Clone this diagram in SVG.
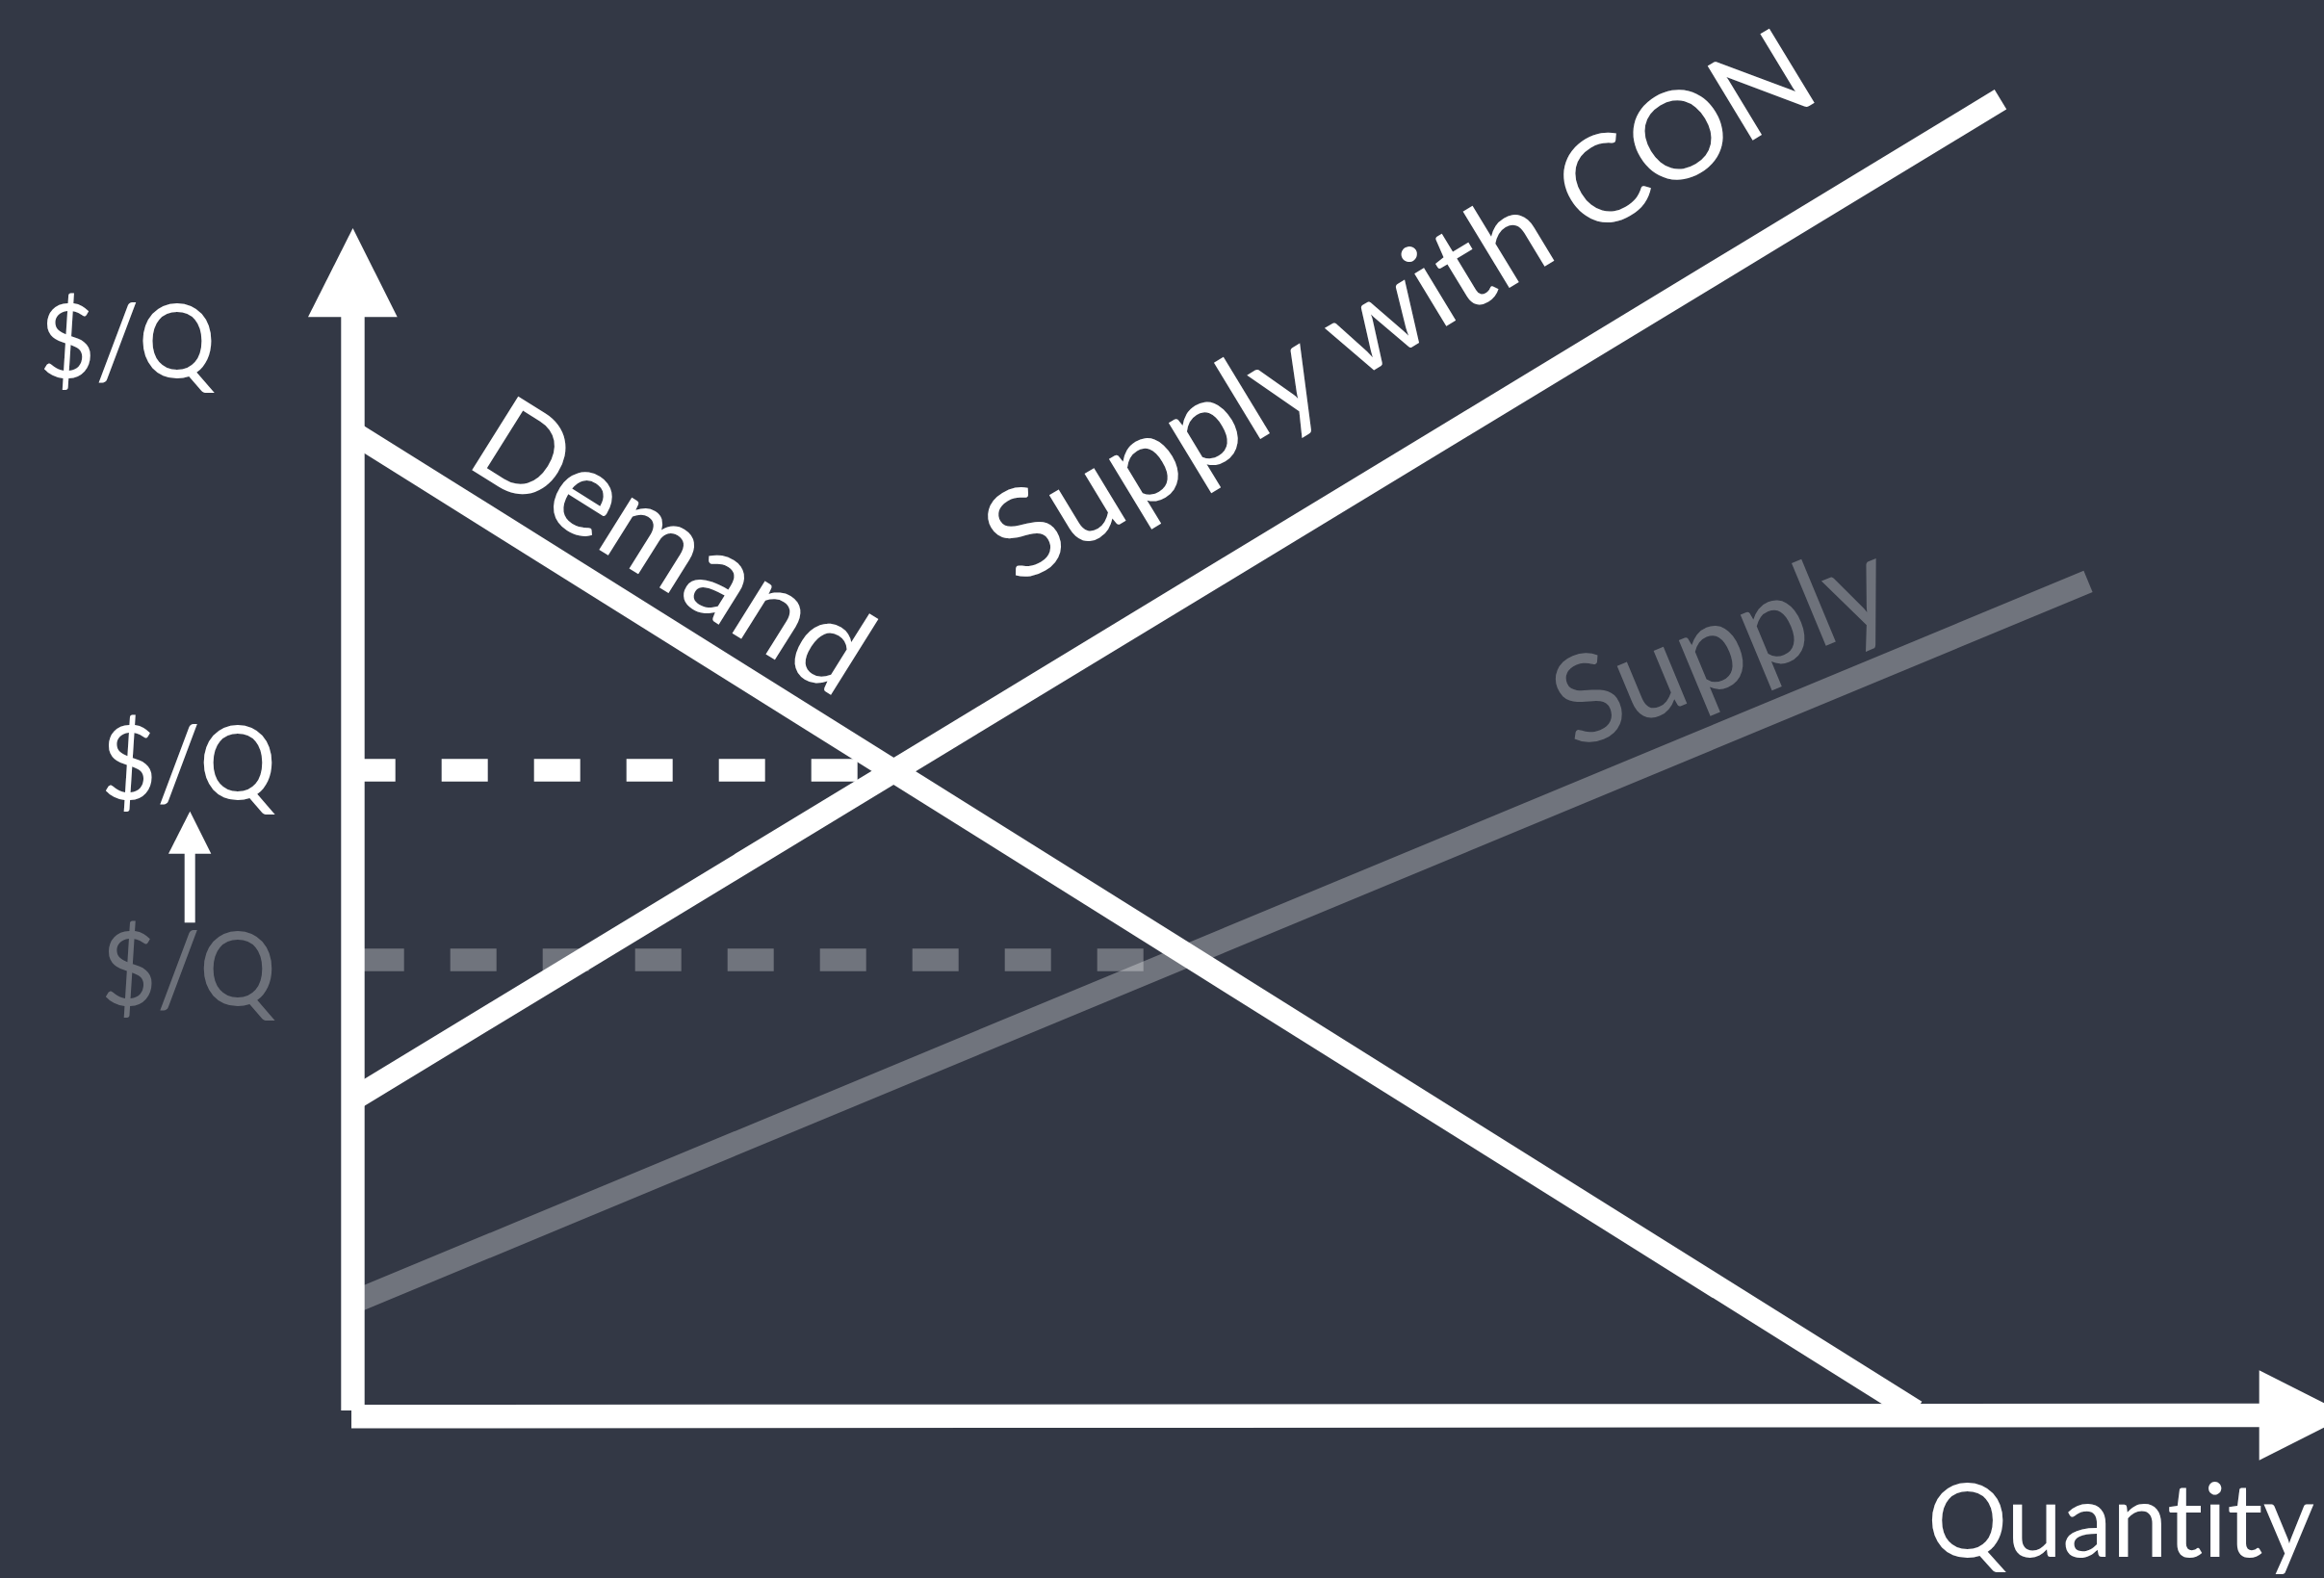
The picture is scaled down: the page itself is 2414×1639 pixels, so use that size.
<svg xmlns="http://www.w3.org/2000/svg" width="2414" height="1639" viewBox="0 0 2414 1639">
  <style>
    .bg { fill: #333845; }
    .axis { stroke: #ffffff; stroke-width: 24.4; fill: none; }
    .curve { stroke: #ffffff; stroke-width: 24; fill: none; stroke-linecap: butt; }
    .faint { stroke: #ffffff; stroke-opacity: 0.3; }
    .guide { stroke-width: 23.5; stroke-dasharray: 48 48; fill: none; }
    .head { fill: #ffffff; }
    .lbl { font-family: "Lato", "Open Sans", "Liberation Sans", sans-serif; fill: #ffffff; font-variant-ligatures: none; font-feature-settings: "liga" 0, "clig" 0; }
    .lbl.dim { fill: #6e727b; }
    .axislbl { font-size: 106px; }
    .curvelbl { font-size: 126px; }
  </style>

  <rect class="bg" x="0" y="0" width="2414" height="1639"/>

  <!-- price guides and supply / demand curves -->
  <g id="connectors">
    <line id="guide-old-price" class="guide faint" x1="371.7" y1="997" x2="1187.7" y2="997"/>
    <line id="curve-supply" class="curve faint" x1="366" y1="1352.9" x2="2169" y2="603.8"/>
    <line id="guide-new-price" class="guide" stroke="#ffffff" x1="362.7" y1="800" x2="890.7" y2="800"/>
    <line id="curve-demand" class="curve" x1="366" y1="448.8" x2="1990" y2="1466"/>
    <line id="curve-supply-con" class="curve" x1="366" y1="1142.2" x2="2078" y2="103.3"/>
    <!-- price shift arrow -->
    <line id="price-shift" stroke="#ffffff" stroke-width="11" x1="197.2" y1="958.3" x2="197.2" y2="884"/>
    <polygon class="head" points="197.3,842.7 175,886.7 219.3,886.7"/>
  </g>

  <!-- axes -->
  <g id="y-axis">
    <line class="axis" x1="366.5" y1="327" x2="366.5" y2="1465"/>
    <polygon class="head" points="366.5,237 320,329.3 412.7,329.3"/>
  </g>
  <g id="x-axis">
    <line class="axis" x1="365" y1="1471.3" x2="2349" y2="1470"/>
    <polygon class="head" points="2346.7,1423.3 2439,1470 2346.7,1516.7"/>
  </g>

  <!-- axis labels -->
  <g id="label-y-axis">
    <text class="lbl axislbl" x="41" y="392" textLength="183" lengthAdjust="spacingAndGlyphs">$/Q</text>
  </g>
  <g id="label-new-price">
    <text class="lbl axislbl" x="105" y="830" textLength="182" lengthAdjust="spacingAndGlyphs">$/Q</text>
  </g>
  <g id="label-old-price">
    <text class="lbl dim axislbl" x="105" y="1044" textLength="182" lengthAdjust="spacingAndGlyphs">$/Q</text>
  </g>
  <g id="label-x-axis">
    <text class="lbl axislbl" x="2002" y="1617" textLength="402" lengthAdjust="spacingAndGlyphs">Quantity</text>
  </g>

  <!-- curve labels -->
  <g id="label-demand" transform="translate(480.7 482.2) rotate(32.06)">
    <text class="lbl curvelbl" x="0" y="0" textLength="460" lengthAdjust="spacingAndGlyphs">Demand</text>
  </g>
  <g id="label-supply-con" transform="translate(1057 609) rotate(-31.25)">
    <text class="lbl curvelbl" x="0" y="0" textLength="980" lengthAdjust="spacingAndGlyphs">Supply with CON</text>
  </g>
  <g id="label-supply" transform="translate(1636 779) rotate(-22.56)">
    <text class="lbl dim curvelbl" x="0" y="0" textLength="366" lengthAdjust="spacingAndGlyphs">Supply</text>
  </g>
</svg>
